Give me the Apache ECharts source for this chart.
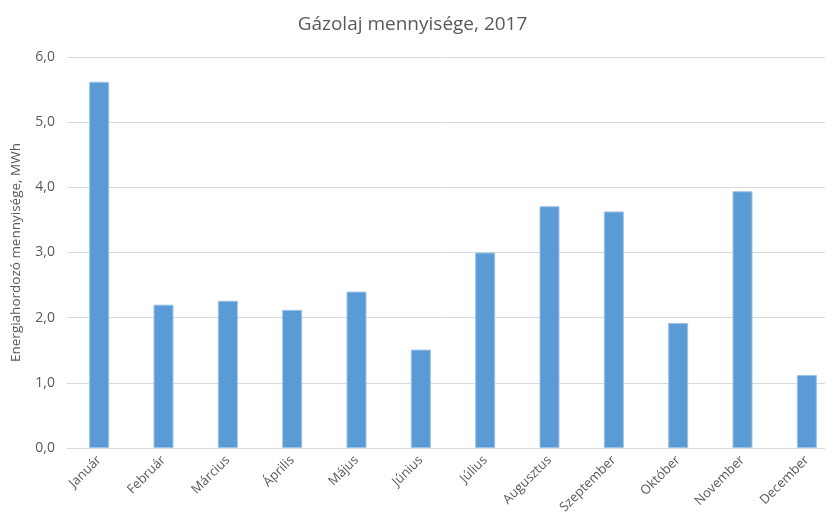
<!DOCTYPE html>
<html>

<head>
    <meta charset="UTF-8">
    <script src="https://cdn.jsdelivr.net/npm/echarts@6.0.0/dist/echarts.min.js"></script>
</head>

<body style="margin:0">
    <div id="main" style="width: 825px; height: 525px;"></div>
    <script>
        // havi adatok
        var months = ['Január', 'Február', 'Március', 'Április', 'Május', 'Június',
            'Július', 'Augusztus', 'Szeptember', 'Október', 'November', 'December'];
        var gazolaj = [5.62, 2.20, 2.26, 2.12, 2.40, 1.51, 3.00, 3.71, 3.63, 1.92, 3.94, 1.12];

        var myChart = echarts.init(document.getElementById('main'));
        var textColor = '#595959';
        var font = 'Open Sans, Noto Sans, sans-serif';

        var option = {
            animation: false,
            title: {
                text: 'Gázolaj mennyisége, 2017',
                left: 'center',
                top: 10,
                textStyle: { color: textColor, fontSize: 19, fontWeight: 'normal', fontFamily: font }
            },
            grid: {
                left: 67,
                right: -14,
                top: 57,
                bottom: 77,
                outerBoundsMode: 'none'
            },
            xAxis: {
                type: 'category',
                data: months,
                axisTick: { show: false },
                axisLine: { lineStyle: { color: '#d9d9d9', width: 1 } },
                axisLabel: {
                    rotate: 45,
                    interval: 0,
                    color: textColor,
                    fontSize: 13,
                    fontFamily: font,
                    margin: 10
                }
            },
            yAxis: {
                type: 'value',
                min: 0,
                max: 6,
                interval: 1,
                name: 'Energiahordozó mennyisége, MWh',
                nameLocation: 'middle',
                nameGap: 44,
                nameTextStyle: { color: textColor, fontSize: 13.5, fontFamily: font },
                axisLine: { show: false },
                axisTick: { show: false },
                axisLabel: {
                    color: textColor,
                    fontSize: 14,
                    fontFamily: font,
                    margin: 12,
                    formatter: function (v) { return v.toFixed(1).replace('.', ','); }
                },
                splitLine: { lineStyle: { color: '#d9d9d9', width: 1 } }
            },
            series: [
                {
                    type: 'bar',
                    data: gazolaj,
                    barWidth: 20,
                    itemStyle: {
                        color: '#5b9bd5',
                        borderColor: '#9dc3e6',
                        borderWidth: 1
                    }
                }
            ]
        };

        option && myChart.setOption(option);
    </script>
</body>

</html>
